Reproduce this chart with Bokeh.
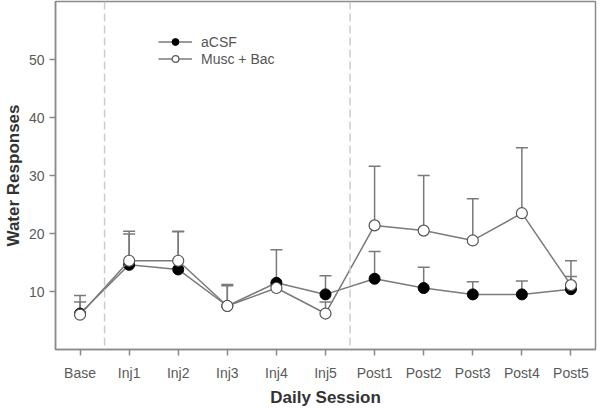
import numpy as np
from bokeh.plotting import figure
from bokeh.models import (ColumnDataSource, Whisker, TeeHead, Span, FixedTicker,
                          Range1d, Legend, LegendItem)
from bokeh.embed import file_html
from bokeh.resources import INLINE

sessions = ["Base", "Inj1", "Inj2", "Inj3", "Inj4", "Inj5",
            "Post1", "Post2", "Post3", "Post4", "Post5"]
acsf_mean = [6.2, 14.6, 13.8, 7.5, 11.5, 9.5, 12.2, 10.6, 9.5, 9.5, 10.4]
acsf_upper = [8.2, 19.9, 20.3, 11.0, 17.2, 12.7, 16.9, 14.2, 11.7, 11.8, 12.6]
musc_mean = [6.0, 15.3, 15.3, 7.5, 10.6, 6.2, 21.4, 20.5, 18.8, 23.5, 11.1]
musc_upper = [9.3, 20.4, 20.4, 11.2, 11.2, 8.2, 31.6, 30.0, 26.0, 34.8, 15.3]
phase_breaks = [0.5, 5.5]
y_ticks = [10, 20, 30, 40, 50]
x_title = "Daily Session"
y_title = "Water Responses"

x = list(range(len(sessions)))
FONT = "Liberation Sans"
GRAY = "#7a7a7a"
W, H = 600, 409

p = figure(width=W, height=H, output_backend="svg", toolbar_location=None,
           x_range=Range1d(-0.5, 10.5), y_range=Range1d(0, 60))
p.min_border_top = 1
p.min_border_right = 5
p.min_border_left = 55
p.min_border_bottom = 58
p.xgrid.visible = False
p.ygrid.visible = False
p.outline_line_color = "#8a8a8a"
p.outline_line_width = 1.5
p.background_fill_color = "white"
p.border_fill_color = "white"

for loc in phase_breaks:
    p.add_layout(Span(location=loc, dimension="height", line_color="#cccccc",
                      line_width=1.5, line_dash="8 4"))

src_a = ColumnDataSource(dict(x=x, y=acsf_mean, up=acsf_upper))
src_m = ColumnDataSource(dict(x=x, y=musc_mean, up=musc_upper))

for src in (src_a, src_m):
    w = Whisker(source=src, base="x", lower="y", upper="up",
                line_color=GRAY, line_width=1.5,
                upper_head=TeeHead(size=12, line_color=GRAY, line_width=1.5),
                lower_head=None)
    p.add_layout(w)

la = p.line("x", "y", source=src_a, line_color=GRAY, line_width=1.5)
sa = p.scatter("x", "y", source=src_a, size=11, fill_color="black",
               line_color="black", line_width=1)
lm = p.line("x", "y", source=src_m, line_color=GRAY, line_width=1.5)
sm = p.scatter("x", "y", source=src_m, size=11, fill_color="white",
               line_color="#555555", line_width=1.2)

legend = Legend(items=[LegendItem(label="aCSF", renderers=[la, sa]),
                       LegendItem(label="Musc + Bac", renderers=[lm, sm])],
                location=(103, 282), orientation="vertical")
legend.border_line_color = None
legend.background_fill_alpha = 0
legend.padding = 0
legend.margin = 0
legend.spacing = 0
legend.glyph_width = 34
legend.glyph_height = 17
legend.label_height = 17
legend.label_standoff = 9
legend.label_text_line_height = 1.0
legend.label_text_font = FONT
legend.label_text_font_size = "14px"
legend.label_text_color = "#555555"
p.add_layout(legend, "center")

p.xaxis.ticker = FixedTicker(ticks=x)
p.xaxis.major_label_overrides = {i: s for i, s in zip(x, sessions)}
p.yaxis.ticker = FixedTicker(ticks=y_ticks)
for ax in (p.xaxis[0], p.yaxis[0]):
    ax.axis_line_color = "#8a8a8a"
    ax.axis_line_width = 1.5
    ax.major_tick_line_color = "#8a8a8a"
    ax.major_tick_line_width = 1.5
    ax.major_tick_out = 6
    ax.major_tick_in = 0
    ax.minor_tick_line_color = None
    ax.major_label_text_font = FONT
    ax.major_label_text_font_size = "14px"
    ax.major_label_text_color = "#5a5a5a"
    ax.axis_label_text_font = FONT
    ax.axis_label_text_font_style = "bold"
    ax.axis_label_text_font_size = "17px"
    ax.axis_label_text_color = "#333333"

p.xaxis.axis_label = x_title
p.yaxis.axis_label = y_title
p.xaxis.major_label_standoff = 9
p.xaxis.axis_label_standoff = 4
p.yaxis.major_label_standoff = 5
p.yaxis.axis_label_standoff = 3

open("out.html", "w").write(file_html(p, INLINE))
